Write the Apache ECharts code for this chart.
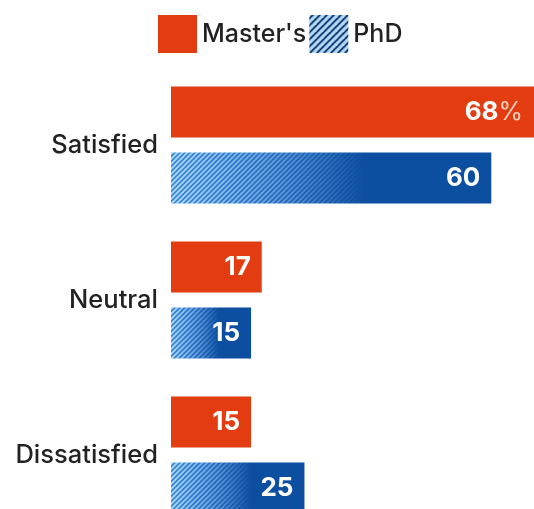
<!DOCTYPE html>
<html>
<head>
<meta charset="utf-8">
<script src="https://cdn.jsdelivr.net/npm/echarts@6/dist/echarts.min.js"></script>
<style>
  html, body { margin: 0; padding: 0; background: #fff; }
  #chart { width: 534px; height: 509px; }
</style>
</head>
<body>
<div id="chart"></div>
<script>
const categories = ['Satisfied', 'Neutral', 'Dissatisfied']
const masters = [68, 17, 15]
const phd = [60, 15, 25]

const ORANGE = '#e23c10'
const BLUE = '#0c4ea0'
const FONT = 'Inter, "Noto Sans", sans-serif'

// diagonal stripes that fade out between x0 and x1 (canvas coords)
function fadeStripes(x0, x1) {
  const P = 5
  const W = 534
  const c = document.createElement('canvas')
  c.width = W
  c.height = P
  const ctx = c.getContext('2d')
  const base = ctx.createLinearGradient(x0, 0, x1, 0)
  base.addColorStop(0, '#3a88d8')
  base.addColorStop(0.6, '#2266bb')
  base.addColorStop(1, BLUE)
  ctx.fillStyle = base
  ctx.fillRect(0, 0, W, P)
  const g = ctx.createLinearGradient(x0, 0, x1, 0)
  g.addColorStop(0, 'rgba(175,220,250,1)')
  g.addColorStop(0.5, 'rgba(150,200,245,0.6)')
  g.addColorStop(1, 'rgba(150,200,245,0)')
  ctx.strokeStyle = g
  ctx.lineWidth = 1.8
  for (let k = -2; k * P < W + 3 * P; k++) {
    const cx = k * P
    ctx.beginPath()
    ctx.moveTo(cx + P, -P)
    ctx.lineTo(cx - 2 * P, 2 * P)
    ctx.stroke()
  }
  return { image: c, repeat: 'repeat' }
}

// legend swatch: navy / light blue stripes
function legendStripes() {
  const P = 7
  const c = document.createElement('canvas')
  c.width = P
  c.height = P
  const ctx = c.getContext('2d')
  ctx.fillStyle = '#0a2766'
  ctx.fillRect(0, 0, P, P)
  ctx.strokeStyle = '#b0dcf8'
  ctx.lineWidth = 3.2
  for (let k = -1; k <= 2; k++) {
    ctx.beginPath()
    ctx.moveTo(k * P + P, -P)
    ctx.lineTo(k * P - 2 * P, 2 * P)
    ctx.stroke()
  }
  return { image: c, repeat: 'repeat' }
}

const chart = echarts.init(document.getElementById('chart'))

const labelBase = {
  show: true,
  position: 'insideRight',
  distance: 11,
  color: '#fff',
  fontFamily: FONT,
  fontWeight: 'bold',
  fontSize: 26
}

chart.setOption({
  backgroundColor: '#fff',
  animation: false,
  legend: {
    left: 153,
    top: 10,
    itemWidth: 39,
    itemHeight: 38,
    itemGap: 3,
    selectedMode: false,
    icon: 'rect',
    textStyle: { fontFamily: FONT, fontSize: 25, fontWeight: 500, color: '#222' },
    data: [
      { name: "Master's", itemStyle: { color: ORANGE } },
      { name: 'PhD', itemStyle: { color: legendStripes() } }
    ]
  },
  // last group runs past the bottom edge, as in the original
  grid: { left: 171, width: 363, top: 67.5, height: 465, outerBoundsMode: 'none', containLabel: false },
  xAxis: { type: 'value', min: 0, max: 68, show: false },
  yAxis: {
    type: 'category',
    data: categories,
    inverse: true,
    axisLine: { show: false },
    axisTick: { show: false },
    axisLabel: { fontFamily: FONT, fontSize: 25.5, fontWeight: 500, color: '#222', margin: 13 }
  },
  series: [
    {
      name: "Master's",
      type: 'bar',
      data: masters,
      barWidth: 51,
      barGap: '29%',
      itemStyle: { color: ORANGE },
      label: {
        ...labelBase,
        formatter: p => p.dataIndex === 0 ? p.value + '{p|%}' : String(p.value),
        rich: { p: { color: '#fbcfbd', fontFamily: FONT, fontSize: 25, fontWeight: 'normal' } }
      }
    },
    {
      name: 'PhD',
      type: 'bar',
      data: phd,
      barWidth: 51,
      barGap: '29%',
      itemStyle: { color: BLUE },
      label: { ...labelBase }
    }
  ]
})

// second pass: stripes fade over the first ~60% of each PhD bar
const x0 = chart.convertToPixel({ xAxisIndex: 0 }, 0)
chart.setOption({
  series: [{}, {
    data: phd.map(v => {
      const x1 = chart.convertToPixel({ xAxisIndex: 0 }, v * 0.6)
      return { value: v, itemStyle: { color: fadeStripes(x0, x1) } }
    })
  }]
})
</script>
</body>
</html>
